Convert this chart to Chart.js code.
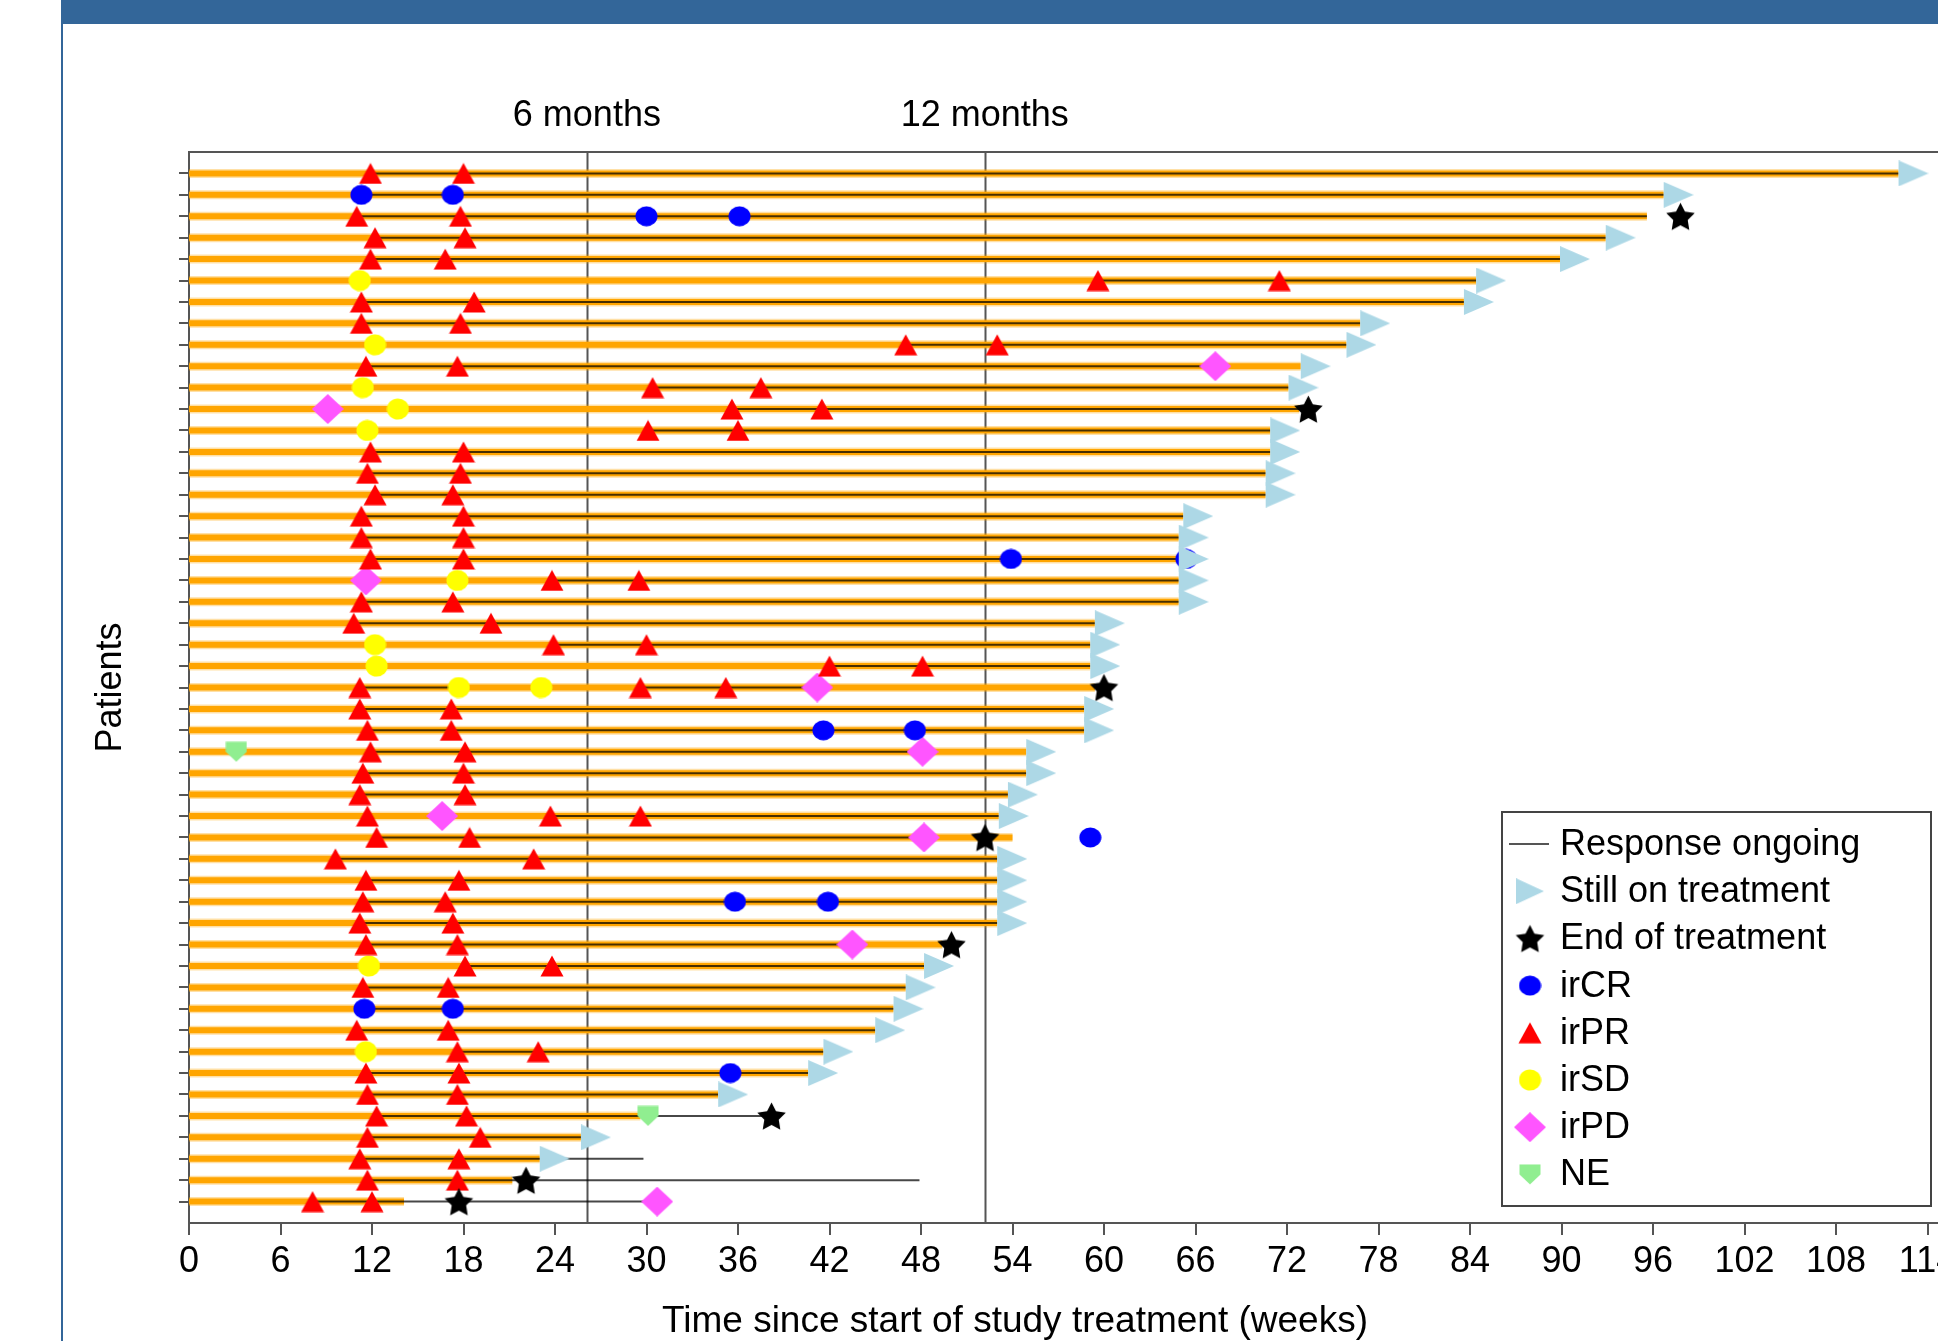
<!DOCTYPE html>
<html>
<head>
<meta charset="utf-8">
<title>Swimmer plot</title>
<script src="https://cdn.jsdelivr.net/npm/chart.js@4.4.0/dist/chart.umd.min.js"></script>
<style>
  html, body { margin: 0; padding: 0; background: #fff; overflow: hidden; }
  #wrap { position: relative; width: 1938px; height: 1341px; overflow: hidden; }
  #swimmer { position: absolute; left: 0; top: 0; }
  #banner { position: absolute; left: 62px; top: 0; right: 0; height: 24px; background: #336699; }
  #leftRule { position: absolute; left: 61px; top: 0; width: 2px; height: 1341px; background: #336699; }
</style>
</head>
<body>
<div id="wrap">
  <canvas id="swimmer" width="2060" height="1341"></canvas>
  <div id="banner"></div>
  <div id="leftRule"></div>
</div>
<script>
// one entry per patient, top row first (weeks)
const txEnd = [112.1, 96.7, 95.6, 92.9, 89.9, 84.4, 83.6, 76.8, 75.9, 72.9,
    72.1, 72.8, 70.9, 70.9, 70.6, 70.6, 65.2, 64.9, 64.9, 64.9,
    64.9, 59.4, 59.1, 59.1, 59.4, 58.7, 58.7, 54.9, 54.9, 53.7,
    53.1, 54.0, 53.0, 53.0, 53.0, 53.0, 49.4, 48.2, 47.0, 46.2,
    45.0, 41.6, 40.6, 34.7, 29.6, 25.7, 23.0, 21.2, 14.1];

const respStart = [11.9, 11.3, 11.0, 12.2, 11.9, 59.6, 11.3, 11.3, 47.0, 11.6,
    30.4, 35.6, 30.1, 11.9, 11.7, 12.2, 11.3, 11.3, 11.9, 23.8,
    11.3, 10.8, 23.9, 42.0, 29.6, 11.2, 11.7, 11.9, 11.4, 11.2,
    23.7, 12.3, 9.6, 11.6, 11.4, 11.2, 11.6, 18.1, 11.4, 11.5,
    11.0, 17.6, 11.6, 11.7, 12.3, 11.7, 11.2, 11.7, 8.1];

const respEnd = [112.1, 96.7, 95.6, 92.9, 89.9, 84.4, 83.6, 76.8, 75.9, 67.3,
    72.1, 72.8, 70.9, 70.9, 70.6, 70.6, 65.2, 64.9, 64.9, 64.9,
    64.9, 59.4, 59.1, 59.1, 41.2, 58.7, 58.7, 48.1, 54.9, 53.7,
    53.1, 48.2, 53.0, 53.0, 53.0, 53.0, 43.5, 48.2, 47.0, 46.2,
    45.0, 41.6, 40.6, 34.7, 38.2, 25.7, 29.8, 47.9, 30.7];

// extra response spell: [patient, from, to]
const respExtra = [[25, 11.2, 17.7]];

// [patient, week]
const endOfTreatment = [[3, 97.8], [12, 73.4], [25, 60.0], [32, 52.2], [37, 50.0], [45, 38.2], [48, 22.1], [49, 17.7]];

const irCR = [[2, 11.3], [2, 17.3], [3, 30.0], [3, 36.1], [19, 53.9], [19, 65.4], [27, 41.6], [27, 47.6],
    [32, 59.1], [35, 35.8], [35, 41.9], [40, 11.5], [40, 17.3], [43, 35.5]];

const irPR = [[1, 11.9], [1, 18.0], [3, 11.0], [3, 17.8], [4, 12.2], [4, 18.1], [5, 11.9], [5, 16.8],
    [6, 59.6], [6, 71.5], [7, 11.3], [7, 18.7], [8, 11.3], [8, 17.8], [9, 47.0], [9, 53.0],
    [10, 11.6], [10, 17.6], [11, 30.4], [11, 37.5], [12, 35.6], [12, 41.5], [13, 30.1], [13, 36.0],
    [14, 11.9], [14, 18.0], [15, 11.7], [15, 17.8], [16, 12.2], [16, 17.3], [17, 11.3], [17, 18.0],
    [18, 11.3], [18, 18.0], [19, 11.9], [19, 18.0], [20, 23.8], [20, 29.5], [21, 11.3], [21, 17.3],
    [22, 10.8], [22, 19.8], [23, 23.9], [23, 30.0], [24, 42.0], [24, 48.1], [25, 11.2], [25, 29.6],
    [25, 35.2], [26, 11.2], [26, 17.2], [27, 11.7], [27, 17.2], [28, 11.9], [28, 18.1], [29, 11.4],
    [29, 18.0], [30, 11.2], [30, 18.1], [31, 11.7], [31, 23.7], [31, 29.6], [32, 12.3], [32, 18.4],
    [33, 9.6], [33, 22.6], [34, 11.6], [34, 17.7], [35, 11.4], [35, 16.8], [36, 11.2], [36, 17.3],
    [37, 11.6], [37, 17.6], [38, 18.1], [38, 23.8], [39, 11.4], [39, 17.0], [41, 11.0], [41, 17.0],
    [42, 17.6], [42, 22.9], [43, 11.6], [43, 17.7], [44, 11.7], [44, 17.6], [45, 12.3], [45, 18.2],
    [46, 11.7], [46, 19.1], [47, 11.2], [47, 17.7], [48, 11.7], [48, 17.6], [49, 8.1], [49, 12.0]];

const irSD = [[6, 11.2], [9, 12.2], [11, 11.4], [12, 13.7], [13, 11.7], [20, 17.6], [23, 12.2],
    [24, 12.3], [25, 17.7], [25, 23.1], [38, 11.8], [42, 11.6]];

const irPD = [[10, 67.3], [12, 9.1], [20, 11.6], [25, 41.2], [28, 48.1], [31, 16.6], [32, 48.2], [37, 43.5], [49, 30.7]];

const notEvaluable = [[28, 3.1], [45, 30.1]];

const milestoneLabels = ['6 months', '12 months'];
const milestoneWeeks = [26.09, 52.18];

const xTitle = 'Time since start of study treatment (weeks)';

const FONT = '"Liberation Sans", Arial, Helvetica, sans-serif';

// marker images
function makeImg(w, h, draw) {
    const c = document.createElement('canvas');
    c.width = w;
    c.height = h;
    draw(c.getContext('2d'), w, h);
    return c;
}

function ellipse(color, w, h) {
    return makeImg(w, h, (g) => {
        g.fillStyle = color;
        g.beginPath();
        g.ellipse(w / 2, h / 2, w / 2 - 0.5, h / 2 - 0.5, 0, 0, Math.PI * 2);
        g.fill();
    });
}

const crImg = ellipse('#0000ff', 23, 21);
const sdImg = ellipse('#ffff00', 23, 22);

const prImg = makeImg(24, 22, (g, w, h) => {
    g.fillStyle = '#ff0000';
    g.beginPath();
    g.moveTo(w / 2, 0.5);
    g.lineTo(w - 0.5, h - 0.5);
    g.lineTo(0.5, h - 0.5);
    g.closePath();
    g.fill();
});

const pdImg = makeImg(32, 30, (g, w, h) => {
    g.fillStyle = '#ff55ff';
    g.beginPath();
    g.moveTo(w / 2, 0);
    g.lineTo(w, h / 2);
    g.lineTo(w / 2, h);
    g.lineTo(0, h / 2);
    g.closePath();
    g.fill();
});

const neImg = makeImg(22, 21, (g, w, h) => {
    g.fillStyle = '#90ee90';
    g.beginPath();
    g.moveTo(0.5, 0.5);
    g.lineTo(w - 0.5, 0.5);
    g.lineTo(w - 0.5, h * 0.5);
    g.lineTo(w / 2, h - 0.5);
    g.lineTo(0.5, h * 0.5);
    g.closePath();
    g.fill();
});

const starImg = makeImg(31, 30, (g, w, h) => {
    g.fillStyle = '#000';
    g.beginPath();
    const R = 15, r = 7.6, cx = w / 2, cy = h / 2 + 1.5;
    for (let k = 0; k < 10; k++) {
        const a = -Math.PI / 2 + k * Math.PI / 5;
        const rr = k % 2 ? r : R;
        g.lineTo(cx + rr * Math.cos(a), cy + rr * Math.sin(a));
    }
    g.closePath();
    g.fill();
});

function arrowShape(g, x0, w, h) {
    g.fillStyle = '#add8e6';
    g.beginPath();
    g.moveTo(x0, 0);
    g.lineTo(x0 + w, h / 2);
    g.lineTo(x0, h);
    g.closePath();
    g.fill();
}
// left edge of the arrow sits on the point
const arrowImg = makeImg(60, 26, (g) => arrowShape(g, 30, 30, 26));
const arrowLegendImg = makeImg(28, 26, (g) => arrowShape(g, 0, 28, 26));

// helpers
const toPoints = (list) => list.map(([row, wk]) => ({ x: wk, y: row }));
function toSegments(list) {
    const out = [];
    list.forEach(([row, a, b]) => {
        out.push({ x: a, y: row }, { x: b, y: row }, { x: NaN, y: NaN });
    });
    return out;
}

const eotRows = endOfTreatment.map(e => e[0]);
const stillOn = txEnd.map((e, i) => [i + 1, e]).filter(([row]) => !eotRows.includes(row));

const barSegs = toSegments(txEnd.map((e, i) => [i + 1, 0, e]));
const respSegs = toSegments(respStart.map((s, i) => [i + 1, s, respEnd[i]]).concat(respExtra));

function markerSet(label, list, img) {
    return {
        type: 'scatter',
        label: label,
        data: toPoints(list),
        pointStyle: img,
        pointRadius: 10,
        order: 1
    };
}

const legendItems = [
    { text: 'Response ongoing', line: true },
    { text: 'Still on treatment', img: arrowLegendImg },
    { text: 'End of treatment', img: starImg },
    { text: 'irCR', img: crImg },
    { text: 'irPR', img: prImg },
    { text: 'irSD', img: sdImg },
    { text: 'irPD', img: pdImg },
    { text: 'NE', img: neImg }
];

const overlay = {
    id: 'overlay',
    beforeDatasetsDraw(chart) {
        const { ctx, chartArea, scales } = chart;
        ctx.save();
        ctx.strokeStyle = '#555';
        ctx.lineWidth = 2;
        milestoneWeeks.forEach(wk => {
            const px = Math.round(scales.x.getPixelForValue(wk)) + 0.5;
            ctx.beginPath();
            ctx.moveTo(px, chartArea.top);
            ctx.lineTo(px, chartArea.bottom);
            ctx.stroke();
        });
        ctx.restore();
    },
    afterDraw(chart) {
        const { ctx, chartArea, scales } = chart;
        ctx.save();
        // top frame
        ctx.strokeStyle = '#555';
        ctx.lineWidth = 2;
        ctx.beginPath();
        ctx.moveTo(chartArea.left, chartArea.top);
        ctx.lineTo(chartArea.right, chartArea.top);
        ctx.stroke();

        // milestone labels
        ctx.fillStyle = '#000';
        ctx.font = '36px ' + FONT;
        ctx.textAlign = 'center';
        ctx.textBaseline = 'middle';
        milestoneWeeks.forEach((wk, i) => {
            ctx.fillText(milestoneLabels[i], scales.x.getPixelForValue(wk), chartArea.top - 36);
        });

        // x axis title (the original figure centres it on the visible part)
        ctx.font = '37px ' + FONT;
        ctx.fillText(xTitle, 1015, chartArea.bottom + 99);

        // legend box
        const lx = 1502, ly = 812, lw = 429, lh = 394;
        ctx.fillStyle = '#fff';
        ctx.fillRect(lx, ly, lw, lh);
        ctx.strokeStyle = '#444';
        ctx.lineWidth = 2;
        ctx.strokeRect(lx, ly, lw, lh);
        ctx.font = '36px ' + FONT;
        ctx.textAlign = 'left';
        legendItems.forEach((item, k) => {
            const cy = ly + 32 + k * 47.2;
            if (item.line) {
                ctx.strokeStyle = '#555';
                ctx.lineWidth = 2;
                ctx.beginPath();
                ctx.moveTo(lx + 7, cy);
                ctx.lineTo(lx + 47, cy);
                ctx.stroke();
            } else {
                ctx.drawImage(item.img, lx + 28 - item.img.width / 2, cy - item.img.height / 2);
            }
            ctx.fillStyle = '#000';
            ctx.fillText(item.text, lx + 58, cy + 1);
        });
        ctx.restore();
    }
};

new Chart(document.getElementById('swimmer'), {
    type: 'scatter',
    data: {
        datasets: [
            markerSet('Still on treatment', stillOn, arrowImg),
            markerSet('End of treatment', endOfTreatment, starImg),
            markerSet('irCR', irCR, crImg),
            markerSet('irPR', irPR, prImg),
            markerSet('irSD', irSD, sdImg),
            markerSet('irPD', irPD, pdImg),
            markerSet('NE', notEvaluable, neImg),
            {
                type: 'line',
                label: 'Response ongoing',
                data: respSegs,
                borderColor: 'rgba(0,0,0,0.72)',
                borderWidth: 2,
                pointRadius: 0,
                spanGaps: false,
                fill: false,
                order: 2
            },
            {
                type: 'line',
                label: 'Treatment',
                data: barSegs,
                borderColor: '#ffa500',
                borderWidth: 6,
                borderCapStyle: 'butt',
                pointRadius: 0,
                spanGaps: false,
                fill: false,
                order: 3
            },
            {
                type: 'line',
                label: 'Treatment halo',
                data: barSegs,
                borderColor: 'rgba(255,165,0,0.35)',
                borderWidth: 9,
                borderCapStyle: 'butt',
                pointRadius: 0,
                spanGaps: false,
                fill: false,
                order: 4
            }
        ]
    },
    options: {
        responsive: false,
        animation: false,
        layout: { padding: { left: 0, top: 152, right: 41, bottom: 0 } },
        plugins: {
            legend: { display: false },
            tooltip: { enabled: false }
        },
        scales: {
            x: {
                type: 'linear',
                min: 0,
                max: 120,
                ticks: {
                    stepSize: 6,
                    autoSkip: false,
                    maxRotation: 0,
                    padding: 5,
                    color: '#000',
                    font: { size: 36, family: FONT }
                },
                grid: { drawOnChartArea: false, tickLength: 12, color: '#555', lineWidth: 2 },
                border: { color: '#555', width: 2 },
                afterFit: (scale) => { scale.height = 118; }
            },
            y: {
                type: 'linear',
                min: 0,
                max: 50,
                reverse: true,
                afterBuildTicks: (scale) => {
                    scale.ticks = txEnd.map((_, i) => ({ value: i + 1 }));
                },
                ticks: { callback: () => '', padding: 0 },
                grid: { drawOnChartArea: false, tickLength: 10, color: '#555', lineWidth: 2 },
                border: { color: '#555', width: 2 },
                title: {
                    display: true,
                    text: 'Patients',
                    color: '#000',
                    font: { size: 36, family: FONT },
                    padding: { top: 89, bottom: 0 }
                },
                afterFit: (scale) => { scale.width = 189; }
            }
        }
    },
    plugins: [overlay]
});
</script>
</body>
</html>
